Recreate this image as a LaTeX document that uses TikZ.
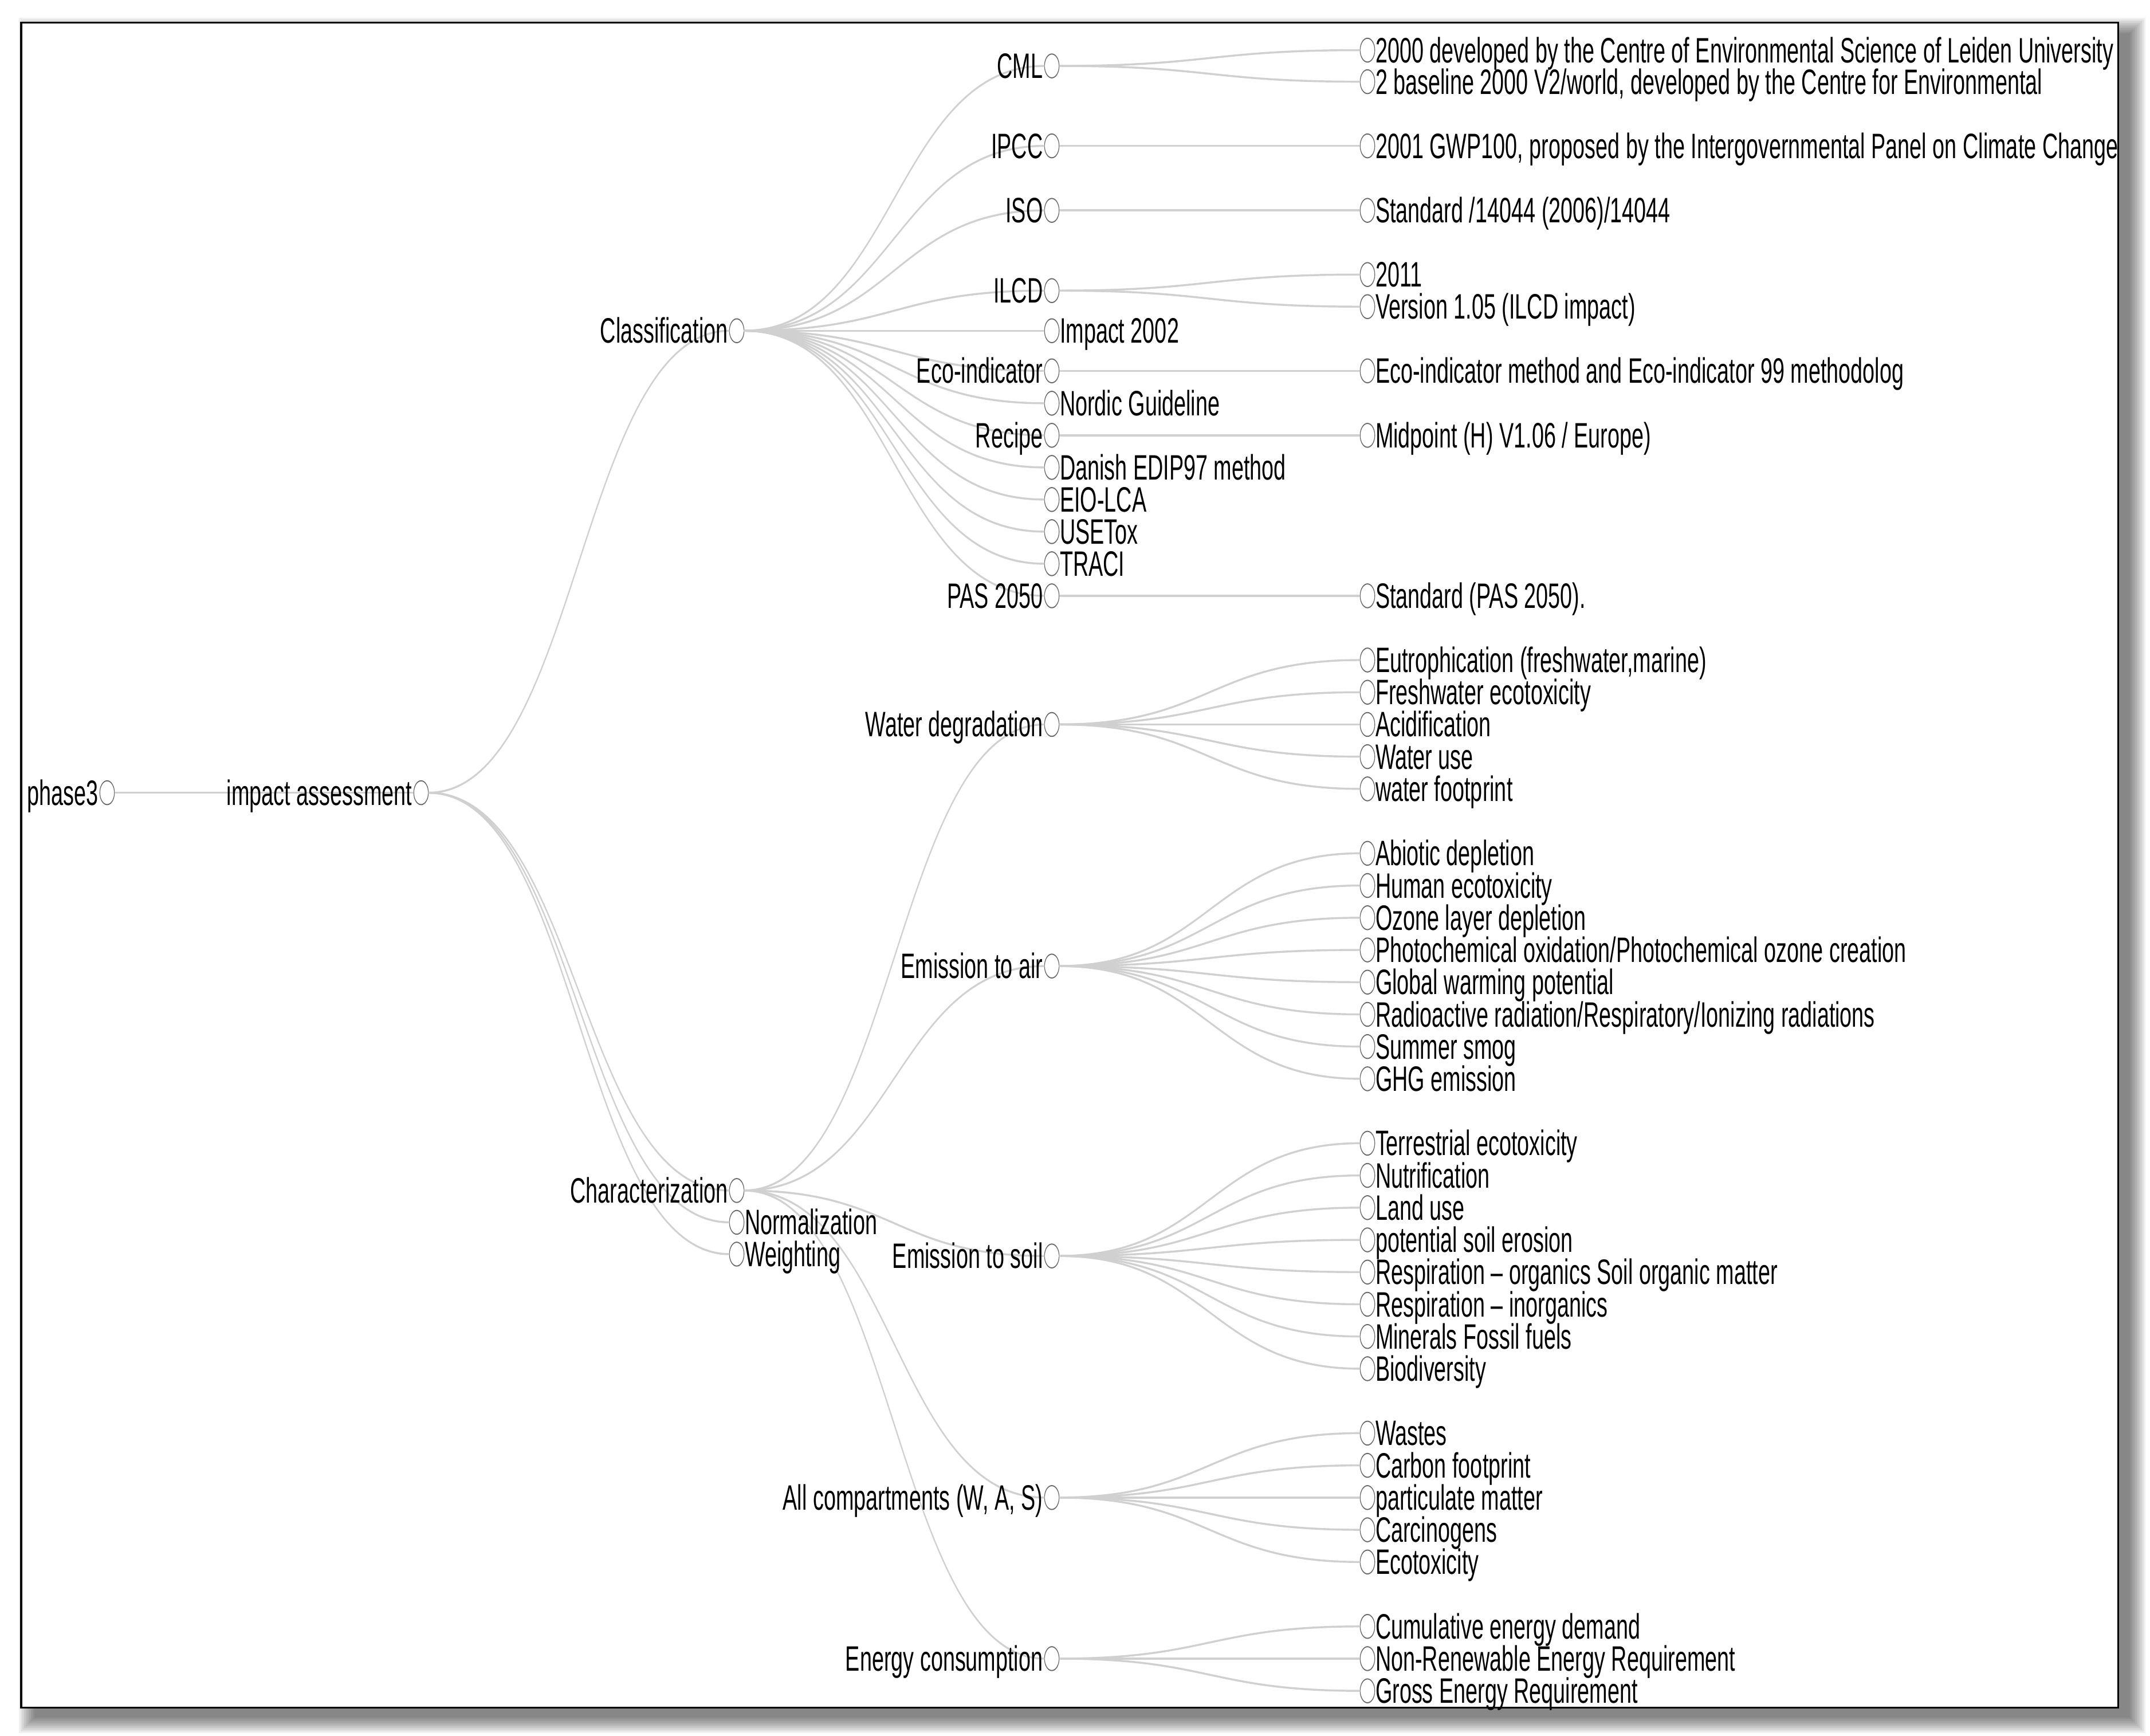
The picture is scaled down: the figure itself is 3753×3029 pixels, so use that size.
\documentclass[tikz,border=0pt]{standalone}
\usepackage{fontspec}
\setmainfont{Liberation Sans}
\usetikzlibrary{calc}
\definecolor{linkgray}{RGB}{208,208,208}
\definecolor{dotgray}{RGB}{105,105,105}
\tikzset{
  dot/.style={circle, draw=dotgray, fill=white, line width=0.012cm, minimum size=0.255cm, inner sep=0pt, outer sep=0pt},
  lbl/.style={font=\fontsize{10.75pt}{12pt}\selectfont, inner sep=0pt, outer sep=0pt, text=black},
  link/.style={draw=linkgray, line width=0.021cm},
  framebox/.style={draw=black, line width=0.03cm, fill=white}
}
\newcommand\dt[3]{\node[dot] (#1) at (#2,#3) {};}
\newcommand\tL[2]{\node[lbl,anchor=base east] (#1-t) at ([xshift=-0.155cm,yshift=-0.132cm]#1.center) {#2};}
\newcommand\tR[2]{\node[lbl,anchor=base west] (#1-t) at ([xshift=0.14cm,yshift=-0.132cm]#1.center) {#2};}
\newcommand\lk[2]{\draw[link] (#1.east) .. controls ($(#1.east)+(262,0)$) and ($(#2.west)+(-262,0)$) .. (#2.west);}
\begin{document}
\begin{tikzpicture}[x=0.01cm,y=-0.01cm]
\useasboundingbox (0,0) rectangle (3753,3029);
\fill[white] (0,0) rectangle (3753,3029);
% drop shadow (towards lower right)
\foreach \r in {0,3,...,27} {
  \fill[black,opacity=0.06] (60-\r,58-\r) rectangle (3718+\r,2998+\r);
}
\path[framebox] (37,39.5) rectangle (3697,2980);
\begin{scope}[x=0.01cm, y=-0.006135cm, transform canvas={yscale=1.63}]
% ---- circles ----
\dt{p3}{187}{1383}
\dt{ia}{735}{1383}
\dt{cls}{1286}{577}
\dt{chr}{1286}{2077}
\dt{nrm}{1286}{2132.5}
\dt{wgt}{1286}{2188}
\dt{cml}{1836}{115}
\dt{ipcc}{1836}{254.5}
\dt{iso}{1836}{367}
\dt{ilcd}{1836}{507}
\dt{imp}{1836}{577}
\dt{eco}{1836}{647}
\dt{nor}{1836}{703.5}
\dt{rec}{1836}{759.5}
\dt{dan}{1836}{815.5}
\dt{eio}{1836}{871.5}
\dt{use}{1836}{927.5}
\dt{tra}{1836}{983.5}
\dt{pas}{1836}{1039.5}
\dt{cmla}{2387}{87.5}
\dt{cmlb}{2387}{142.5}
\dt{ipcca}{2387}{254.5}
\dt{isoa}{2387}{367}
\dt{ilcda}{2387}{479}
\dt{ilcdb}{2387}{535}
\dt{ecoa}{2387}{647}
\dt{reca}{2387}{759.5}
\dt{pasa}{2387}{1039.5}
\dt{wat}{1836}{1263.9}
\dt{air}{1836}{1685.4}
\dt{soi}{1836}{2191.2}
\dt{all}{1836}{2612.7}
\dt{ene}{1836}{2893.7}
\dt{wa}{2387}{1151.5}
\dt{wb}{2387}{1207.7}
\dt{wc}{2387}{1263.9}
\dt{wd}{2387}{1320.1}
\dt{we}{2387}{1376.3}
\dt{aa}{2387}{1488.7}
\dt{ab}{2387}{1544.9}
\dt{ac}{2387}{1601.1}
\dt{ad}{2387}{1657.3}
\dt{ae}{2387}{1713.5}
\dt{af}{2387}{1769.7}
\dt{ag}{2387}{1825.9}
\dt{ah}{2387}{1882.1}
\dt{sa}{2387}{1994.5}
\dt{sb}{2387}{2050.7}
\dt{sc}{2387}{2106.9}
\dt{sd}{2387}{2163.1}
\dt{se}{2387}{2219.3}
\dt{sf}{2387}{2275.5}
\dt{sg}{2387}{2331.7}
\dt{sh}{2387}{2387.9}
\dt{ca}{2387}{2500.3}
\dt{cb}{2387}{2556.5}
\dt{cc}{2387}{2612.7}
\dt{cd}{2387}{2668.9}
\dt{ce}{2387}{2725.1}
\dt{ea}{2387}{2837.5}
\dt{eb}{2387}{2893.7}
\dt{ec}{2387}{2949.9}
% ---- links ----
\lk{p3}{ia}
\foreach \c in {cls,chr,nrm,wgt} {\lk{ia}{\c}}
\foreach \c in {cml,ipcc,iso,ilcd,imp,eco,nor,rec,dan,eio,use,tra,pas} {\lk{cls}{\c}}
\lk{cml}{cmla}\lk{cml}{cmlb}\lk{ipcc}{ipcca}\lk{iso}{isoa}
\lk{ilcd}{ilcda}\lk{ilcd}{ilcdb}\lk{eco}{ecoa}\lk{rec}{reca}\lk{pas}{pasa}
\foreach \c in {wat,air,soi,all,ene} {\lk{chr}{\c}}
\foreach \c in {wa,wb,wc,wd,we} {\lk{wat}{\c}}
\foreach \c in {aa,ab,ac,ad,ae,af,ag,ah} {\lk{air}{\c}}
\foreach \c in {sa,sb,sc,sd,se,sf,sg,sh} {\lk{soi}{\c}}
\foreach \c in {ca,cb,cc,cd,ce} {\lk{all}{\c}}
\foreach \c in {ea,eb,ec} {\lk{ene}{\c}}
% ---- labels ----
\tL{p3}{phase3}
\tL{ia}{impact assessment}
\tL{cls}{Classification}
\tL{chr}{Characterization}
\tR{nrm}{Normalization}
\tR{wgt}{Weighting}
\tL{cml}{CML}
\tL{ipcc}{IPCC}
\tL{iso}{ISO}
\tL{ilcd}{ILCD}
\tR{imp}{Impact 2002}
\tL{eco}{Eco-indicator}
\tR{nor}{Nordic Guideline}
\tL{rec}{Recipe}
\tR{dan}{Danish EDIP97 method}
\tR{eio}{EIO-LCA}
\tR{use}{USETox}
\tR{tra}{TRACI}
\tL{pas}{PAS 2050}
\tR{cmla}{2000 developed by the Centre of Environmental Science of Leiden University}
\tR{cmlb}{2 baseline 2000 V2/world, developed by the Centre for Environmental}
\tR{ipcca}{2001 GWP100, proposed by the Intergovernmental Panel on Climate Change}
\tR{isoa}{Standard /14044 (2006)/14044}
\tR{ilcda}{2011}
\tR{ilcdb}{Version 1.05 (ILCD impact)}
\tR{ecoa}{Eco-indicator method and Eco-indicator 99 methodolog}
\tR{reca}{Midpoint (H) V1.06 / Europe)}
\tR{pasa}{Standard (PAS 2050).}
\tL{wat}{Water degradation}
\tL{air}{Emission to air}
\tL{soi}{Emission to soil}
\tL{all}{All compartments (W, A, S)}
\tL{ene}{Energy consumption}
\tR{wa}{Eutrophication (freshwater,marine)}
\tR{wb}{Freshwater ecotoxicity}
\tR{wc}{Acidification}
\tR{wd}{Water use}
\tR{we}{water footprint}
\tR{aa}{Abiotic depletion}
\tR{ab}{Human ecotoxicity}
\tR{ac}{Ozone layer depletion}
\tR{ad}{Photochemical oxidation/Photochemical ozone creation}
\tR{ae}{Global warming potential}
\tR{af}{Radioactive radiation/Respiratory/Ionizing radiations}
\tR{ag}{Summer smog}
\tR{ah}{GHG emission}
\tR{sa}{Terrestrial ecotoxicity}
\tR{sb}{Nutrification}
\tR{sc}{Land use}
\tR{sd}{potential soil erosion}
\tR{se}{Respiration – organics Soil organic matter}
\tR{sf}{Respiration – inorganics}
\tR{sg}{Minerals Fossil fuels}
\tR{sh}{Biodiversity}
\tR{ca}{Wastes}
\tR{cb}{Carbon footprint}
\tR{cc}{particulate matter}
\tR{cd}{Carcinogens}
\tR{ce}{Ecotoxicity}
\tR{ea}{Cumulative energy demand}
\tR{eb}{Non-Renewable Energy Requirement}
\tR{ec}{Gross Energy Requirement}
\end{scope}
\end{tikzpicture}
\end{document}
